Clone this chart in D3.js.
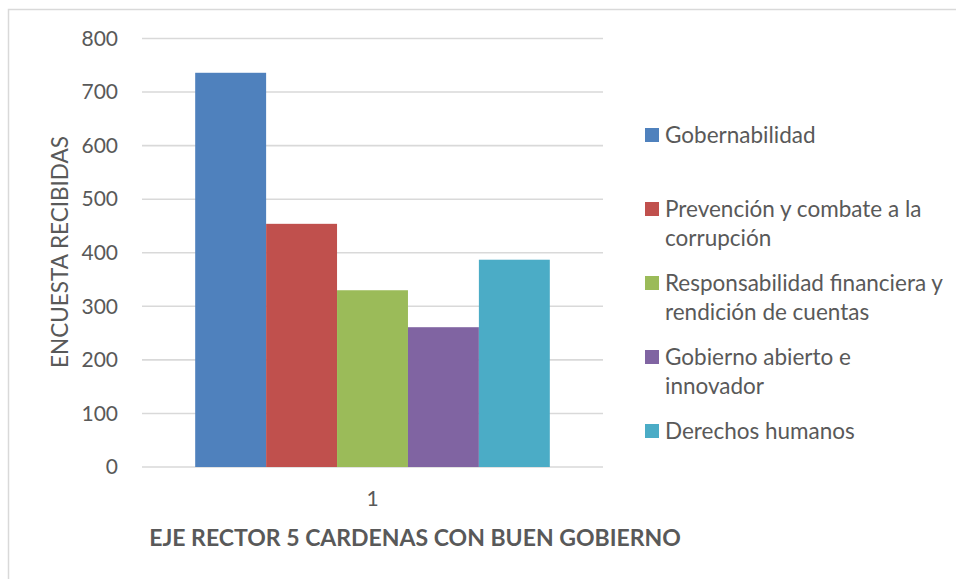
<!DOCTYPE html>
<html>
<head>
<meta charset="utf-8">
<script src="https://cdn.jsdelivr.net/npm/d3@7"></script>
<style>
  body { margin: 0; background: #fff; }
  text { font-family: Lato, "Open Sans", sans-serif; fill: #595959; }
</style>
</head>
<body>
<div id="chart"></div>
<script>
// data
const categories = ["1"];
const seriesNames = [
    "Gobernabilidad",
    "Prevención y combate a la corrupción",
    "Responsabilidad financiera y rendición de cuentas",
    "Gobierno abierto e innovador",
    "Derechos humanos"
];
const seriesValues = [736, 454, 330, 261, 387];
const yTicks = [0, 100, 200, 300, 400, 500, 600, 700, 800];
// legend lines, already wrapped like the original
const legendLines = [
    ["Gobernabilidad"],
    ["Prevención y combate a la", "corrupción"],
    ["Responsabilidad financiera y", "rendición de cuentas"],
    ["Gobierno abierto e", "innovador"],
    ["Derechos humanos"]
];
const colors = ["#4f81bd", "#c0504d", "#9bbb59", "#8064a2", "#4bacc6"];

const svgWidth = 956,
    svgHeight = 579,
    margin = { top: 38.5, right: 353, bottom: 112, left: 142 },
    width = svgWidth - margin.left - margin.right,
    height = svgHeight - margin.top - margin.bottom;

let svg = d3.select("#chart").append("svg")
    .attr("width", svgWidth)
    .attr("height", svgHeight);

// outer chart border (runs off the right and bottom of the picture)
svg.append("rect")
    .attr("x", 8.5)
    .attr("y", 9.5)
    .attr("width", svgWidth + 20)
    .attr("height", svgHeight + 20)
    .attr("fill", "none")
    .attr("stroke", "#d9d9d9")
    .attr("stroke-width", 1.5);

let plot = svg.append("g")
    .attr("transform", `translate(${margin.left},${margin.top})`);

// scales
let xScale = d3.scaleBand()
    .domain(categories)
    .range([0, width])
    .paddingInner(0)
    .paddingOuter(0.15); // gap width ~150% of one bar, split on both sides
let seriesScale = d3.scaleBand()
    .domain(seriesNames)
    .range([0, xScale.bandwidth()]);
let yScale = d3.scaleLinear()
    .domain([0, 800])
    .range([height, 0]);

// gridlines
plot.append("g")
    .selectAll("line")
    .data(yTicks)
    .join("line")
    .attr("x1", 0)
    .attr("x2", width)
    .attr("y1", d => yScale(d))
    .attr("y2", d => yScale(d))
    .attr("stroke", "#d9d9d9")
    .attr("stroke-width", 1.6);

// y axis labels
let yAxis = plot.append("g")
    .call(d3.axisLeft(yScale).tickValues(yTicks).tickSize(0).tickPadding(24));
yAxis.select(".domain").remove();
yAxis.selectAll("text")
    .style("font-size", "21px")
    .attr("fill", "#595959");

// x axis label
let xAxis = plot.append("g")
    .attr("transform", `translate(0, ${height})`)
    .call(d3.axisBottom(xScale).tickSize(0).tickPadding(24));
xAxis.select(".domain").remove();
xAxis.selectAll("text")
    .style("font-size", "21px")
    .attr("fill", "#595959");

// bars
let barData = seriesNames.map((name, i) => ({ name: name, value: seriesValues[i], color: colors[i] }));
plot.append("g")
    .attr("transform", `translate(${xScale(categories[0])},0)`)
    .selectAll("rect")
    .data(barData)
    .join("rect")
    .attr("x", d => seriesScale(d.name))
    .attr("y", d => yScale(d.value))
    .attr("width", seriesScale.bandwidth())
    .attr("height", d => height - yScale(d.value))
    .attr("fill", d => d.color);

// axis titles
svg.append("text")
    .attr("text-anchor", "middle")
    .attr("transform", `translate(68, 252) rotate(-90)`)
    .style("font-size", "22.5px")
    .text("ENCUESTA RECIBIDAS");

svg.append("text")
    .attr("text-anchor", "middle")
    .attr("x", 415)
    .attr("y", 546)
    .style("font-size", "23px")
    .style("font-weight", "bold")
    .text("EJE RECTOR 5 CARDENAS CON BUEN GOBIERNO");

// legend
let legend = svg.append("g")
    .attr("transform", "translate(645, 135)");
let items = legend.selectAll("g")
    .data(legendLines)
    .join("g")
    .attr("transform", (d, i) => `translate(0, ${i * 74})`);
items.append("rect")
    .attr("x", 0)
    .attr("y", -7)
    .attr("width", 14)
    .attr("height", 14)
    .attr("fill", (d, i) => colors[i]);
items.append("text")
    .attr("x", 20)
    .attr("y", 8)
    .style("font-size", "22.5px")
    .selectAll("tspan")
    .data(d => d)
    .join("tspan")
    .attr("x", 20)
    .attr("dy", (d, j) => j === 0 ? 0 : 29)
    .text(d => d);
</script>
</body>
</html>
